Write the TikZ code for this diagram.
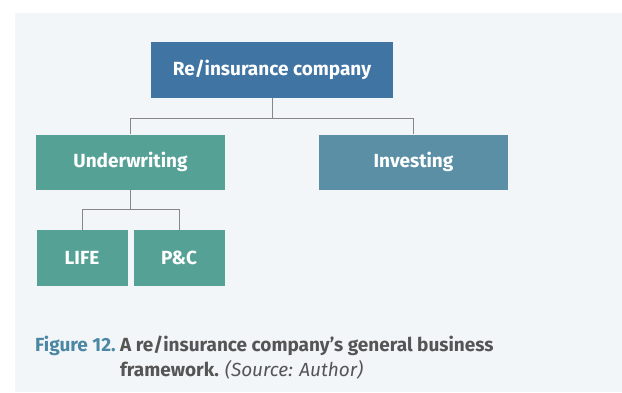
\documentclass[tikz,border=0pt]{standalone}
\usepackage{fontspec}
\setmainfont{Fira Sans}
\usetikzlibrary{trees}
\definecolor{panelbg}{HTML}{F2F6F9}
\definecolor{topblue}{HTML}{4075A3}
\definecolor{tealbox}{HTML}{56A196}
\definecolor{slatebox}{HTML}{5B8FA6}
\definecolor{linegray}{HTML}{878787}
\definecolor{capblue}{HTML}{4B87A3}
\definecolor{capgray}{HTML}{555555}

\begin{document}
\begin{tikzpicture}[x=1pt,y=1pt,
  every node/.style={inner sep=0pt, text=white,
    font=\bfseries\fontsize{19}{22}\selectfont},
  edge from parent/.style={draw=linegray, line width=1pt},
  edge from parent path={(\tikzparentnode.south) -- +(0,-20pt)
    -| (\tikzchildnode.north)},
  level 1/.style={level distance=92pt, sibling distance=283pt},
  level 2/.style={level distance=96pt, sibling distance=97pt},
  topbox/.style={fill=topblue, minimum width=242pt, minimum height=56pt},
  midbox/.style={minimum width=189pt, minimum height=55pt},
  leafbox/.style={fill=tealbox, minimum width=91pt, minimum height=56pt}]
\useasboundingbox (0,0) rectangle (622,392);
\fill[panelbg] (15,0) rectangle (622,379);
\node[topbox] (company) at (272,322) {Re/insurance company} % root
  child { node[midbox, fill=tealbox] (underwriting) {Underwriting}
child { node[leafbox] (life) {LIFE} }
child { node[leafbox] (pc) {P\&C} } }
child { node[midbox, fill=slatebox] (investing) {Investing} };
\node[anchor=north west, text=capgray, font=\bfseries\fontsize{19}{25}\selectfont]
  (caption) at (35,58)
  {\begin{tabular}{@{}l@{\ }l@{}}
  \textcolor{capblue}{Figure 12.} & A re/insurance company’s general business\\
  & framework. \textmd{\textit{(Source: Author)}}
  \end{tabular}};
\end{tikzpicture}
\end{document}
